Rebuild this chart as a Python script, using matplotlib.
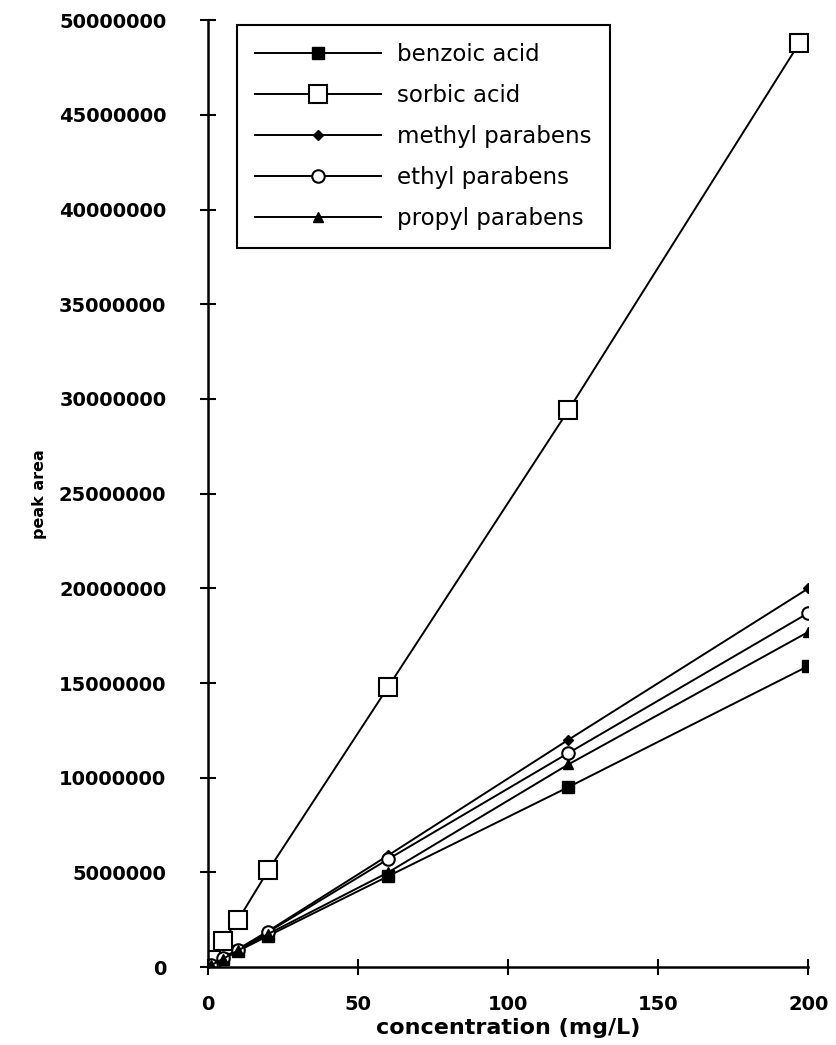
import matplotlib.pyplot as plt
from matplotlib.ticker import FuncFormatter

# concentraciones (mg/L)
conc = [1, 5, 10, 20, 60, 120, 200]
conc_sorbic = [1, 5, 10, 20, 60, 120, 197]

# areas de pico
benzoic = [100000, 420000, 850000, 1650000, 4800000, 9500000, 15900000]
sorbic = [370000, 1400000, 2500000, 5100000, 14800000, 29400000, 48800000]
methyl = [120000, 480000, 950000, 1900000, 5900000, 12000000, 20000000]
ethyl = [110000, 460000, 920000, 1850000, 5700000, 11300000, 18700000]
propyl = [100000, 440000, 880000, 1750000, 5000000, 10700000, 17700000]

nombres = ['benzoic acid', 'sorbic acid', 'methyl parabens',
           'ethyl parabens', 'propyl parabens']

fig = plt.figure(figsize=(8.36, 10.45), dpi=100)
ax = fig.add_axes([0.249, 0.0746, 0.718, 0.906])

ax.plot(conc, benzoic, color='black', lw=1.4, marker='s', ms=8,
        mfc='black', mec='black', label=nombres[0])
ax.plot(conc_sorbic, sorbic, color='black', lw=1.4, marker='s', ms=13,
        mfc='white', mec='black', mew=1.5, label=nombres[1])
ax.plot(conc, methyl, color='black', lw=1.4, marker='D', ms=5,
        mfc='black', mec='black', label=nombres[2])
ax.plot(conc, ethyl, color='black', lw=1.4, marker='o', ms=9,
        mfc='white', mec='black', mew=1.5, label=nombres[3])
ax.plot(conc, propyl, color='black', lw=1.4, marker='^', ms=7,
        mfc='black', mec='black', label=nombres[4])

ax.set_xlim(0, 200)
ax.set_ylim(0, 50000000)
ax.set_xticks([0, 50, 100, 150, 200])
ax.set_yticks(range(0, 50000001, 5000000))
ax.yaxis.set_major_formatter(FuncFormatter(lambda v, p: '%d' % v))

ax.spines['top'].set_visible(False)
ax.spines['right'].set_visible(False)
ax.spines['left'].set_linewidth(1.8)
ax.spines['bottom'].set_linewidth(1.8)
ax.tick_params(direction='inout', length=12, width=1.5, labelsize=14)
ax.tick_params(axis='y', pad=24)
ax.tick_params(axis='x', pad=14)
for lab in ax.get_xticklabels() + ax.get_yticklabels():
    lab.set_fontweight('bold')

ax.set_xlabel('concentration (mg/L)', fontsize=16, fontweight='bold', labelpad=3)
ax.set_ylabel('peak area', fontsize=11.5, fontweight='bold')
ax.yaxis.set_label_coords(-0.268, 0.5)

leg = ax.legend(loc='upper left', bbox_to_anchor=(0.048, 0.995), fontsize=16.5,
                handlelength=5.5, fancybox=False, edgecolor='black',
                framealpha=1, borderpad=0.8, labelspacing=0.78,
                handletextpad=0.7, borderaxespad=0)
leg.get_frame().set_linewidth(1.5)

fig.savefig('out.png', dpi=100)
